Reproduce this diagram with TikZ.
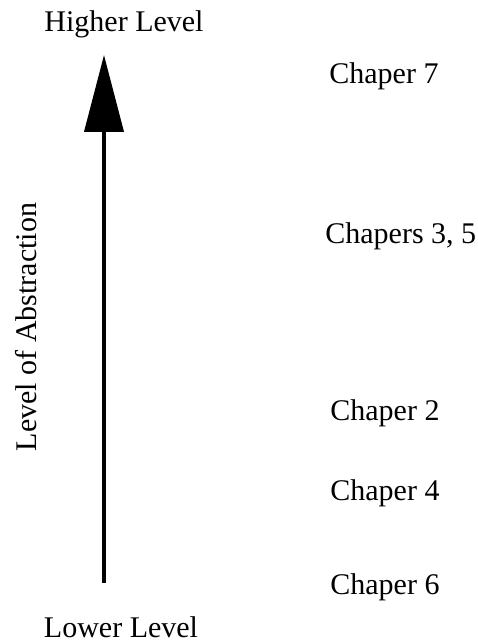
\documentclass[tikz,border=0pt]{standalone}
\usepackage{fontspec}
\setmainfont{Liberation Serif}
\usepackage{tikz}
\usetikzlibrary{arrows.meta}

\begin{document}
\begin{tikzpicture}[x=0.5pt,y=-0.5pt,every node/.style={font=\fontsize{15}{17}\selectfont,inner sep=0pt},chap/.style={anchor=base west},lvl/.style={anchor=base}]
\useasboundingbox (0,0) rectangle (477,641);
\node[lvl] (high) at (124,32) {Higher Level};
\node[lvl] (low) at (121,637) {Lower Level};
\coordinate (top) at (104,55);
\coordinate (bottom) at (104,583);
\draw[line width=2pt,-{Triangle[length=38.5pt,width=19.5pt]}] (bottom) -- (top);
\node[rotate=90,anchor=base] (abs) at (36,327) {Level of Abstraction};
\node[chap] (c7) at (329,84) {Chaper 7};
\node[chap] (c35) at (325,244) {Chapers 3, 5};
\node[chap] (c2) at (330,420) {Chaper 2};
\node[chap] (c4) at (330,500) {Chaper 4};
\node[chap] (c6) at (330,594) {Chaper 6};
\end{tikzpicture}
\end{document}
